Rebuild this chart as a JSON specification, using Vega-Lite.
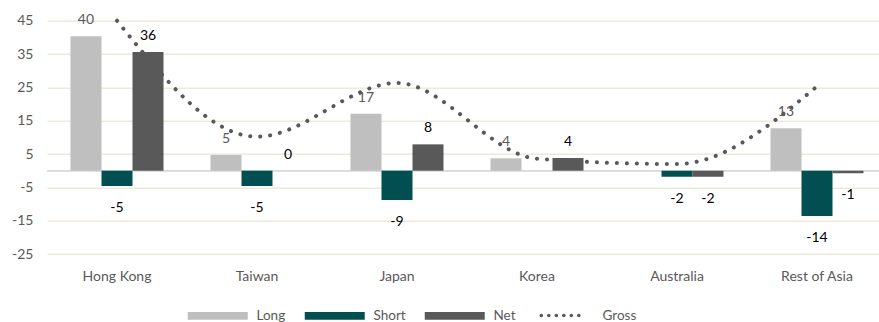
{
  "$schema": "https://vega.github.io/schema/vega-lite/v6.json",
  "width": 832,
  "height": 233.3,
  "autosize": {"type": "none"},
  "padding": {"left": 47, "top": 20.7, "right": 0, "bottom": 68},
  "background": "white",
  "config": {
    "view": {"stroke": null},
    "font": "Lato",
    "axis": {"labelFont": "Lato", "labelFontSize": 14, "labelColor": "#595959", "title": null, "domain": false, "ticks": false, "labelOverlap": false}
  },
  "datasets": {
    "bars": [
      {"country": "Hong Kong", "series": "Long", "value": 40.3},
      {"country": "Hong Kong", "series": "Short", "value": -4.6},
      {"country": "Hong Kong", "series": "Net", "value": 35.6},
      {"country": "Taiwan", "series": "Long", "value": 4.7},
      {"country": "Taiwan", "series": "Short", "value": -4.6},
      {"country": "Taiwan", "series": "Net", "value": 0.0},
      {"country": "Japan", "series": "Long", "value": 17.1},
      {"country": "Japan", "series": "Short", "value": -8.8},
      {"country": "Japan", "series": "Net", "value": 7.9},
      {"country": "Korea", "series": "Long", "value": 3.7},
      {"country": "Korea", "series": "Net", "value": 3.8},
      {"country": "Australia", "series": "Short", "value": -1.8},
      {"country": "Australia", "series": "Net", "value": -1.8},
      {"country": "Rest of Asia", "series": "Long", "value": 12.7},
      {"country": "Rest of Asia", "series": "Short", "value": -13.6},
      {"country": "Rest of Asia", "series": "Net", "value": -0.8}
    ],
    "gross": [
      {"country": "Hong Kong", "gross": 45.0},
      {"country": "Taiwan", "gross": 10.2},
      {"country": "Japan", "gross": 26.3},
      {"country": "Korea", "gross": 3.6},
      {"country": "Australia", "gross": 2.0},
      {"country": "Rest of Asia", "gross": 25.3}
    ]
  },
  "encoding": {
    "x": {
      "field": "country", "type": "nominal",
      "sort": ["Hong Kong", "Taiwan", "Japan", "Korea", "Australia", "Rest of Asia"],
      "scale": {"domain": ["Hong Kong", "Taiwan", "Japan", "Korea", "Australia", "Rest of Asia"], "range": [0, 840], "paddingInner": 0, "paddingOuter": 0},
      "axis": {"labelAngle": 0, "labelPadding": 15, "grid": false}
    }
  },
  "layer": [
    {
      "data": {"name": "gross"},
      "mark": {"type": "rule", "color": "#D9D9D9", "strokeWidth": 1.3},
      "encoding": {"x": null, "y": {"datum": 0, "type": "quantitative", "scale": {"domain": [-25, 45], "nice": false},
        "axis": {"values": [-25, -15, -5, 5, 15, 25, 35, 45], "tickCount": 20, "labelOverlap": false, "grid": true, "gridColor": "#EDE9DC", "gridWidth": 1.5, "labelPadding": 14,
          "labelExpr": "replace(datum.label, '\u2212', '-')"}}}
    },
    {
      "data": {"name": "bars"},
      "mark": {"type": "bar"},
      "encoding": {
        "xOffset": {"field": "series", "type": "nominal", "sort": ["Long", "Short", "Net"], "scale": {"domain": ["Long", "Short", "Net"], "paddingInner": 0, "paddingOuter": 0.758}},
        "y": {"field": "value", "type": "quantitative"},
        "color": {
          "field": "series", "type": "nominal",
          "scale": {"domain": ["Long", "Short", "Net", "Gross"], "range": ["#BFBFBF", "#024F51", "#595959", "#595959"]},
          "legend": {
            "title": null, "orient": "none", "legendX": 164, "legendY": 288, "direction": "horizontal",
            "symbolType": "M-1,-0.13H1V0.13H-1Z", "symbolSize": 3600,
            "labelFont": "Lato", "labelFontSize": 13.5, "labelColor": "#595959", "labelOffset": 32, "columnPadding": 18,
            "encode": {"symbols": {"update": {
              "shape": {"signal": "datum.value === 'Gross' ? 'M-0.75,0H0.75' : 'M-1,-0.13H1V0.13H-1Z'"},
              "fill": {"signal": "datum.value === 'Gross' ? 'transparent' : scale('color', datum.value)"},
              "stroke": {"signal": "datum.value === 'Gross' ? '#595959' : 'transparent'"},
              "strokeWidth": {"signal": "datum.value === 'Gross' ? 3.5 : 0"},
              "strokeDash": {"signal": "datum.value === 'Gross' ? [0.1, 7.4] : [1, 0]"},
              "strokeCap": {"value": "round"},
              "opacity": {"value": 1}
            }}}
          }
        }
      }
    },
    {
      "data": {"name": "gross"},
      "mark": {"type": "line", "interpolate": "monotone", "strokeDash": [0.1, 9.9], "strokeWidth": 4, "strokeCap": "round", "color": "#595959"},
      "encoding": {"y": {"field": "gross", "type": "quantitative"}}
    },
    {
      "data": {"name": "bars"},
      "transform": [{"filter": "datum.value >= 0"}, {"calculate": "replace(format(datum.value, '.0f'), '\u2212', '-')", "as": "lbl"}],
      "mark": {"type": "text", "baseline": "bottom", "dy": -9, "fontSize": 14, "font": "Lato"},
      "encoding": {
        "xOffset": {"field": "series", "type": "nominal", "sort": ["Long", "Short", "Net"]},
        "y": {"field": "value", "type": "quantitative"},
        "text": {"field": "lbl", "type": "nominal"},
        "color": {"condition": {"test": "datum.series === 'Long'", "value": "#595959"}, "value": "#000000"}
      }
    },
    {
      "data": {"name": "bars"},
      "transform": [{"filter": "datum.value < 0"}, {"calculate": "replace(format(datum.value, '.0f'), '\u2212', '-')", "as": "lbl"}],
      "mark": {"type": "text", "baseline": "top", "dy": 15, "fontSize": 14, "font": "Lato"},
      "encoding": {
        "xOffset": {"field": "series", "type": "nominal", "sort": ["Long", "Short", "Net"]},
        "y": {"field": "value", "type": "quantitative"},
        "text": {"field": "lbl", "type": "nominal"},
        "color": {"value": "#000000"}
      }
    }
  ],
  "resolve": {"scale": {"y": "shared"}}
}
